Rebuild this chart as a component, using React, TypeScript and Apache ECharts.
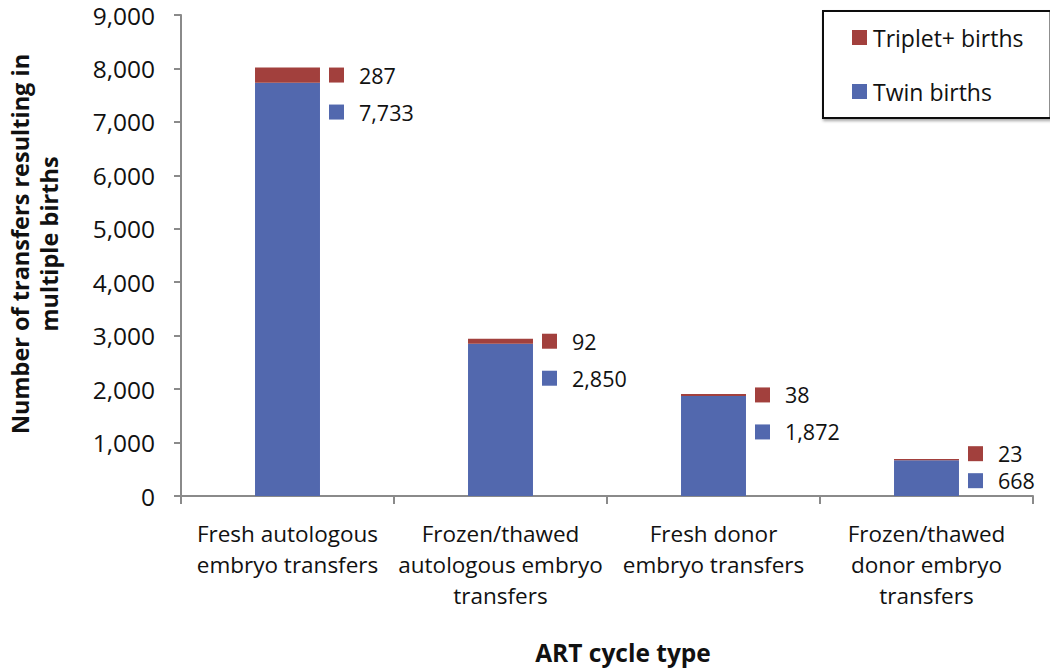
import React, { useEffect, useRef } from "react";
import * as echarts from "echarts";

const categories = [
  "Fresh autologous\nembryo transfers",
  "Frozen/thawed\nautologous embryo\ntransfers",
  "Fresh donor\nembryo transfers",
  "Frozen/thawed\ndonor embryo\ntransfers",
];
const twinBirths = [7733, 2850, 1872, 668];
const tripletBirths = [287, 92, 38, 23];
const yTicks = { min: 0, max: 9000, interval: 1000 };

const RED = "#A2403D";
const BLUE = "#5268AE";
const FONT = "'Open Sans', sans-serif";

const fmt = (v: number) => v.toLocaleString("en-US");

export default function App() {
  const ref = useRef<HTMLDivElement>(null);
  useEffect(() => {
    if (!ref.current) return;
    const chart = echarts.init(ref.current, undefined, { renderer: "svg" });
    const rich = (lh: number) => ({
      rs: { width: 15, height: 15, backgroundColor: RED, lineHeight: lh },
      bs: { width: 15, height: 15, backgroundColor: BLUE, lineHeight: lh },
      v: { fontSize: 21.5, color: "#111", fontFamily: FONT, padding: [0, 0, 0, 15], lineHeight: lh },
    });
    const labelFor = (lh: number, dy: number) => ({
      show: true,
      position: ["100%", "50%"],
      align: "left",
      verticalAlign: "top",
      offset: [9, dy],
      formatter: (p: any) =>
        `{rs|}{v|${fmt(tripletBirths[p.dataIndex])}}\n{bs|}{v|${fmt(twinBirths[p.dataIndex])}}`,
      rich: rich(lh),
    });
    chart.setOption({
      animation: false,
      textStyle: { fontFamily: FONT },
      grid: { left: 181, right: 17, top: 15, bottom: 172, containLabel: false },
      legend: {
        orient: "vertical",
        left: 823,
        top: 11,
        data: ["Triplet+ births", "Twin births"],
        itemWidth: 15,
        itemHeight: 15,
        itemGap: 31,
        padding: [15, 27, 15, 29],
        borderColor: "#111",
        borderWidth: 2,
        shadowColor: "rgba(0,0,0,0.35)",
        shadowBlur: 3,
        shadowOffsetX: 1,
        shadowOffsetY: 2,
        backgroundColor: "#fff",
        icon: "rect",
        textStyle: { fontSize: 23, color: "#111", fontFamily: FONT, padding: [0, 0, 0, 1] },
      },
      xAxis: {
        type: "category",
        data: categories,
        axisLine: { lineStyle: { color: "#8a8a8a", width: 2 } },
        axisTick: { show: true, length: 8, lineStyle: { color: "#8a8a8a", width: 2 } },
        axisLabel: {
          color: "#111",
          fontSize: 22.5,
          lineHeight: 31,
          margin: 22,
          fontFamily: FONT,
          interval: 0,
        },
      },
      yAxis: {
        type: "value",
        min: yTicks.min,
        max: yTicks.max,
        interval: yTicks.interval,
        splitLine: { show: false },
        axisLine: { show: true, lineStyle: { color: "#8a8a8a", width: 2 } },
        axisTick: { show: true, length: 7, lineStyle: { color: "#8a8a8a", width: 2 } },
        axisLabel: {
          color: "#111",
          fontSize: 24.5,
          lineHeight: 24,
          margin: 26,
          fontFamily: FONT,
          formatter: (v: number) => fmt(v),
        },
      },
      graphic: [
        {
          type: "text",
          x: 34,
          y: 244,
          rotation: Math.PI / 2,
          style: {
            text: "Number of transfers resulting in\nmultiple births",
            font: `bold 23.5px ${FONT}`,
            fill: "#111",
            align: "center",
            verticalAlign: "middle",
            lineHeight: 29,
          },
        },
        {
          type: "text",
          x: 623,
          y: 652,
          style: {
            text: "ART cycle type",
            font: `bold 24.5px ${FONT}`,
            fill: "#111",
            align: "center",
            verticalAlign: "middle",
          },
        },
      ],
      series: [
        {
          name: "Twin births",
          type: "bar",
          stack: "total",
          barWidth: "30.5%",
          itemStyle: { color: BLUE },
          data: twinBirths,
        },
        {
          name: "Triplet+ births",
          type: "bar",
          stack: "total",
          itemStyle: { color: RED },
          label: labelFor(37, -18.5),
          data: tripletBirths.map((v, i) =>
            i === tripletBirths.length - 1 ? { value: v, label: labelFor(27, -19.5) } : v
          ),
        },
      ],
    });
    return () => chart.dispose();
  }, []);
  return (
    <div
      ref={ref}
      style={{ position: "fixed", left: 0, top: 0, width: 1050, height: 668, background: "#fff" }}
    />
  );
}
